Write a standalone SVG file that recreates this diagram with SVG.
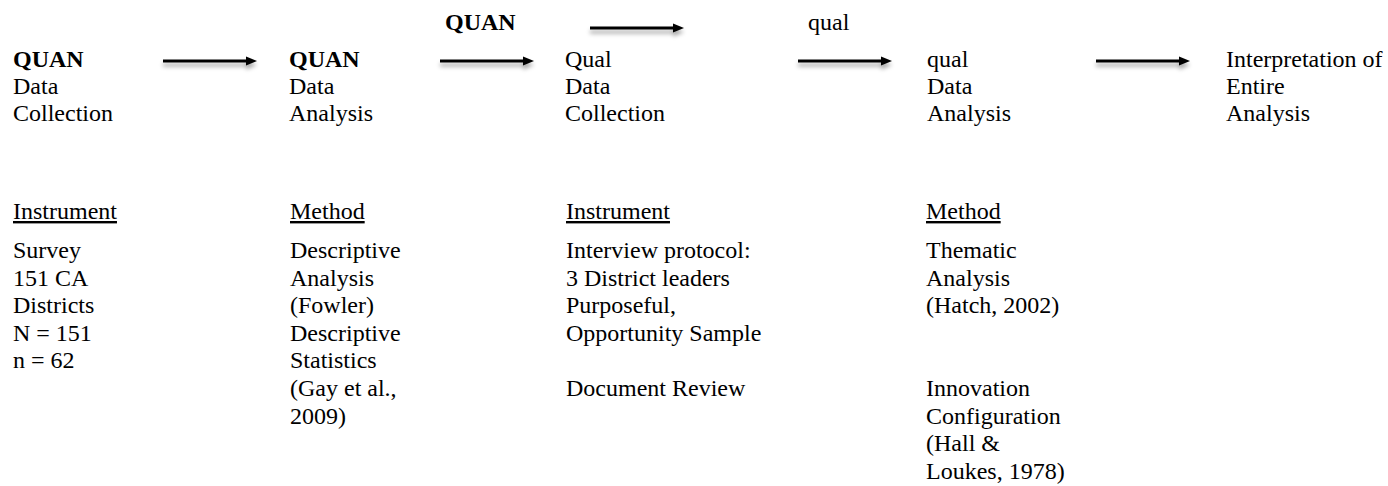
<svg xmlns="http://www.w3.org/2000/svg" width="1388" height="486" viewBox="0 0 1388 486">
<style>
text{font-family:"Liberation Serif","Times New Roman",serif;font-size:24px;fill:#000}
.b{font-weight:bold}
.u{text-decoration:underline}
.arr{stroke:#000;stroke-width:3;fill:none;marker-end:url(#ah)}
</style>
<defs>
<marker id="ah" markerWidth="11" markerHeight="10" refX="1" refY="5" orient="auto" markerUnits="userSpaceOnUse">
<path d="M0,0.5 L11,5 L0,9.5 Z" fill="#000"/>
</marker>
<filter id="sh" filterUnits="userSpaceOnUse" x="0" y="0" width="1388" height="486">
<feDropShadow dx="0" dy="4" stdDeviation="2.2" flood-color="#000" flood-opacity="0.35"/>
</filter>
</defs>
<rect width="1388" height="486" fill="#fff"/>
<g id="connectors" filter="url(#sh)">
<line class="arr" x1="163" y1="61" x2="247" y2="61"/>
<line class="arr" x1="440" y1="61" x2="524" y2="61"/>
<line class="arr" x1="590" y1="28" x2="674" y2="28"/>
<line class="arr" x1="798" y1="61" x2="882" y2="61"/>
<line class="arr" x1="1096" y1="61" x2="1180" y2="61"/>
</g>
<g id="label-quan-top"><text class="b" x="445" y="30">QUAN</text></g>
<g id="label-qual-top"><text x="808" y="30">qual</text></g>
<g id="node-quan-collection">
<text class="b" x="13" y="67">QUAN</text>
<text x="13" y="94">Data</text>
<text x="13" y="121">Collection</text>
</g>
<g id="node-quan-analysis">
<text class="b" x="289" y="67">QUAN</text>
<text x="289" y="94">Data</text>
<text x="289" y="121">Analysis</text>
</g>
<g id="node-qual-collection">
<text x="565" y="67">Qual</text>
<text x="565" y="94">Data</text>
<text x="565" y="121">Collection</text>
</g>
<g id="node-qual-analysis">
<text x="927" y="67">qual</text>
<text x="927" y="94">Data</text>
<text x="927" y="121">Analysis</text>
</g>
<g id="node-interpretation">
<text x="1226" y="67">Interpretation of</text>
<text x="1226" y="94">Entire</text>
<text x="1226" y="121">Analysis</text>
</g>
<g id="detail-col1">
<text class="u" x="13" y="219">Instrument</text>
<text x="13" y="258">Survey</text>
<text x="13" y="285.6">151 CA</text>
<text x="13" y="313.2">Districts</text>
<text x="13" y="340.8">N = 151</text>
<text x="13" y="368.4">n = 62</text>
</g>
<g id="detail-col2">
<text class="u" x="290" y="219">Method</text>
<text x="290" y="258">Descriptive</text>
<text x="290" y="285.6">Analysis</text>
<text x="290" y="313.2">(Fowler)</text>
<text x="290" y="340.8">Descriptive</text>
<text x="290" y="368.4">Statistics</text>
<text x="290" y="396">(Gay et al.,</text>
<text x="290" y="423.6">2009)</text>
</g>
<g id="detail-col3">
<text class="u" x="566" y="219">Instrument</text>
<text x="566" y="258">Interview protocol:</text>
<text x="566" y="285.6">3 District leaders</text>
<text x="566" y="313.2">Purposeful,</text>
<text x="566" y="340.8">Opportunity Sample</text>
<text x="566" y="396">Document Review</text>
</g>
<g id="detail-col4">
<text class="u" x="926" y="219">Method</text>
<text x="926" y="258">Thematic</text>
<text x="926" y="285.6">Analysis</text>
<text x="926" y="313.2">(Hatch, 2002)</text>
<text x="926" y="396">Innovation</text>
<text x="926" y="423.6">Configuration</text>
<text x="926" y="451.2">(Hall &amp;</text>
<text x="926" y="478.8">Loukes, 1978)</text>
</g>
</svg>
